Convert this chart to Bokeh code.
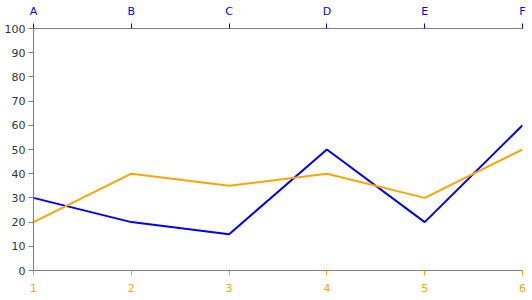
from bokeh.plotting import figure
from bokeh.models import LinearAxis, FixedTicker, Range1d
from bokeh.embed import file_html
from bokeh.resources import INLINE

x = [1, 2, 3, 4, 5, 6]
top_labels = ["A", "B", "C", "D", "E", "F"]
blue_vals = [30, 20, 15, 50, 20, 60]
orange_vals = [20, 40, 35, 40, 30, 50]
y_ticks = list(range(0, 101, 10))

p = figure(width=532, height=300, output_backend="svg", toolbar_location=None,
           x_range=Range1d(1, 6), y_range=Range1d(0, 100),
           min_border_left=33, min_border_right=10, min_border_top=28, min_border_bottom=30,
           x_axis_location=None, y_axis_location=None)
p.outline_line_color = None
p.xgrid.visible = False
p.ygrid.visible = False

font = "DejaVu Sans"

left = LinearAxis(ticker=FixedTicker(ticks=y_ticks))
left.axis_line_color = "#808080"
left.major_tick_line_color = "#808080"
left.minor_tick_line_color = None
left.major_tick_out = 5
left.major_tick_in = 0
left.major_label_text_color = "#333333"
left.major_label_text_font = font
left.major_label_text_font_size = "11px"
left.major_label_standoff = 3
p.add_layout(left, "left")

bottom = LinearAxis(ticker=FixedTicker(ticks=x))
bottom.axis_line_color = "#808080"
bottom.major_tick_line_color = "orange"
bottom.minor_tick_line_color = None
bottom.major_tick_out = 5
bottom.major_tick_in = 0
bottom.major_label_text_color = "orange"
bottom.major_label_text_font = font
bottom.major_label_text_font_size = "11px"
bottom.major_label_standoff = 8
p.add_layout(bottom, "below")

top = LinearAxis(ticker=FixedTicker(ticks=x),
                 major_label_overrides={xi: lab for xi, lab in zip(x, top_labels)})
top.axis_line_color = "#808080"
top.major_tick_line_color = "blue"
top.minor_tick_line_color = None
top.major_tick_out = 5
top.major_tick_in = 0
top.major_label_text_color = "blue"
top.major_label_text_font = font
top.major_label_text_font_size = "11px"
top.major_label_standoff = 6
p.add_layout(top, "above")

p.line(x, blue_vals, line_color="blue", line_width=2)
p.line(x, orange_vals, line_color="orange", line_width=2)

open("out.html", "w").write(file_html(p, INLINE))
